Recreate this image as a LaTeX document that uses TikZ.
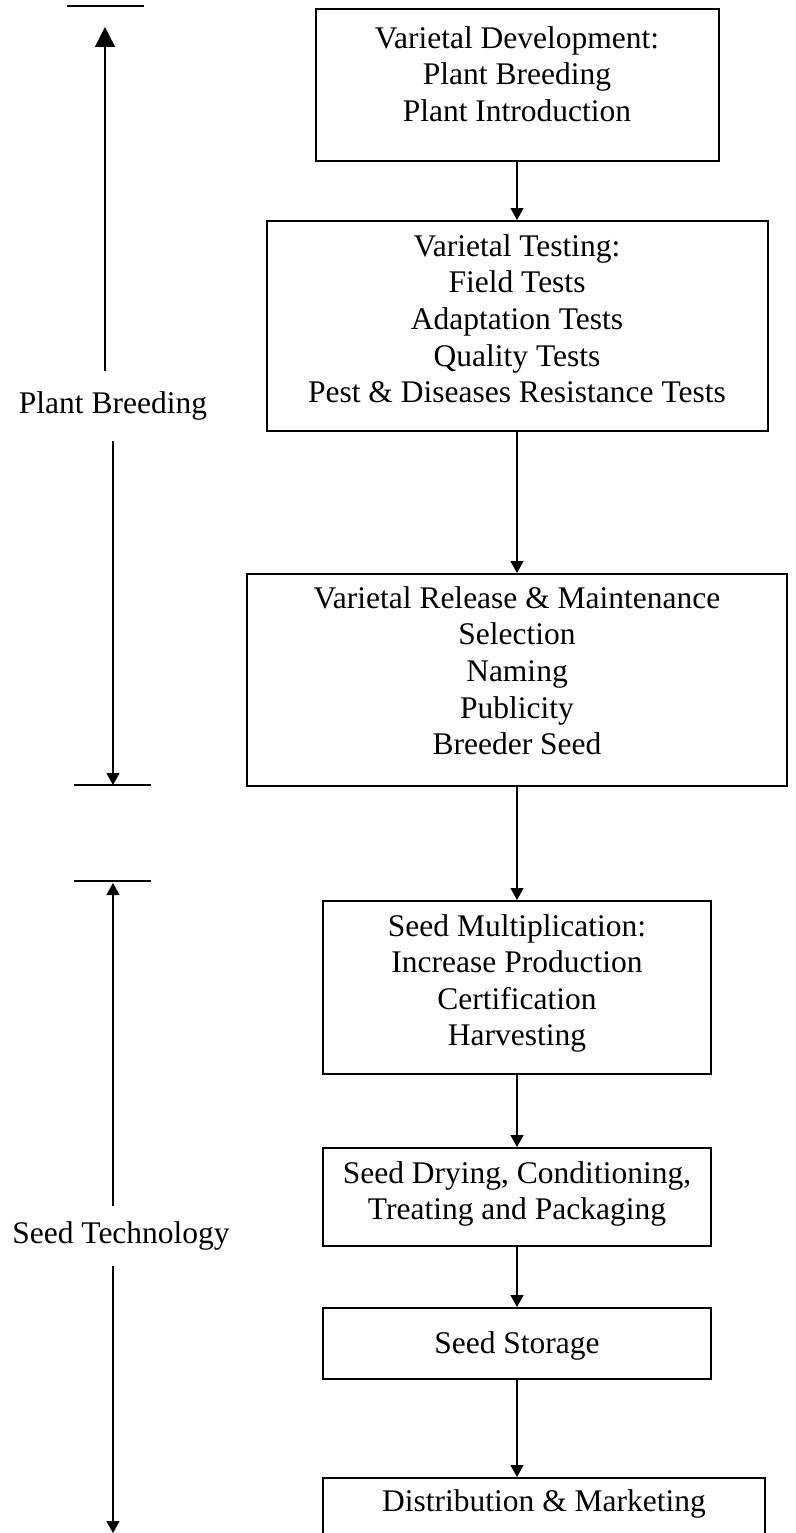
\documentclass[tikz,border=0pt]{standalone}
\usepackage{fontspec}
\setmainfont{Liberation Serif}
\usetikzlibrary{arrows.meta,positioning}

\tikzset{
  stage/.style={draw, line width=2pt, align=center, anchor=north, inner sep=0pt},
  flow/.style={-{Triangle[length=12pt,width=13pt]}, line width=1.4pt},
  bigflow/.style={-{Triangle[length=20pt,width=20pt]}, line width=1.4pt},
  phase/.style={inner xsep=0pt},
  bar/.style={line width=1.8pt}
}

\begin{document}
\begin{tikzpicture}[x=1pt,y=-1pt,font=\fontsize{31.5}{36.6}\selectfont]
\useasboundingbox (0,0) rectangle (795,1533);

% Stages of the chain
\node[stage, minimum width=403pt, minimum height=152pt, text depth=22pt] (dev) at (517,8)
  {Varietal Development:\\Plant Breeding\\Plant Introduction};
\node[stage, minimum width=501pt, minimum height=210pt, text depth=15pt] (test) at (517,220)
  {Varietal Testing:\\Field Tests\\Adaptation Tests\\Quality Tests\\Pest \& Diseases Resistance Tests};
\node[stage, minimum width=540pt, minimum height=212pt, text depth=19pt] (rel) at (517,573)
  {Varietal Release \& Maintenance\\Selection\\Naming\\Publicity\\Breeder Seed};
\node[stage, minimum width=388pt, minimum height=173pt, text depth=15pt] (mult) at (517,900)
  {Seed Multiplication:\\Increase Production\\Certification\\Harvesting};
\node[stage, minimum width=388pt, minimum height=98pt, text depth=13pt] (dry) at (517,1147)
  {Seed Drying, Conditioning,\\Treating and Packaging};
\node[stage, minimum width=388pt, minimum height=71pt, text depth=2pt] (store) at (517,1307)
  {Seed Storage};
\node[stage, minimum width=442pt, minimum height=80pt, text depth=35pt] (dist) at (544,1477)
  {Distribution \& Marketing};

\foreach \a/\b in {dev/test,test/rel,rel/mult,mult/dry,dry/store}
  \draw[flow] (\a) -- (\b);
\draw[flow] (store.south) -- (store.south |- dist.north);

% Plant Breeding span
\draw[bar] (67,6) -- (144,6);
\draw[bar] (74,785) -- (151,785);
\coordinate (pbtip) at (105,27);
\coordinate (pbend) at (113,785);
\node[phase, inner ysep=20pt] (pb) at (113,406) {Plant Breeding};
\draw[bigflow] (pbtip |- pb.north) -- (pbtip);
\draw[flow] (pbend |- pb.south) -- (pbend);

% Seed Technology span
\draw[bar] (74,881) -- (151,881);
\coordinate (sttip) at (113,883);
\coordinate (stend) at (113,1533);
\node[phase, inner ysep=15pt] (st) at (121,1236) {Seed Technology};
\draw[flow] (sttip |- st.north) -- (sttip);
\draw[flow] (stend |- st.south) -- (stend);

\end{tikzpicture}
\end{document}
